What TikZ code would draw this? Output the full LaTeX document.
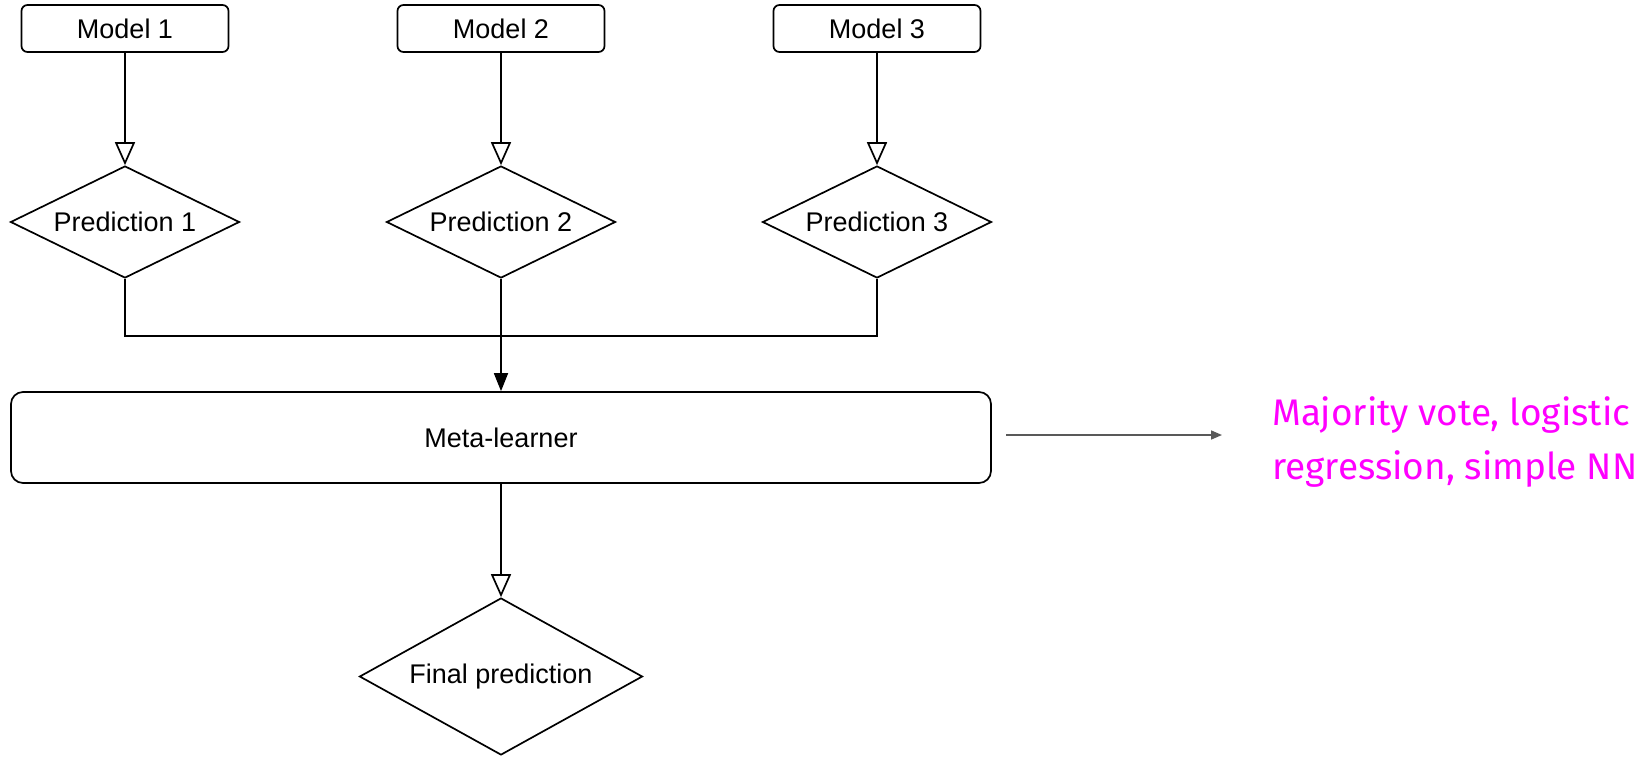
\documentclass[tikz,border=0pt]{standalone}
\usepackage{fontspec}
\setmainfont{Liberation Sans}
\newfontfamily\magfont{Fira Sans}
\usetikzlibrary{shapes.geometric,arrows.meta}
\definecolor{mag}{HTML}{FF00FF}
\definecolor{arrgray}{HTML}{595959}
\begin{document}
\begin{tikzpicture}[x=1pt,y=-1pt,
  lbl/.style={font=\fontsize{27}{31}\selectfont},
  modelbox/.style={lbl, draw, line width=1.7pt, rounded corners=6pt, minimum width=207pt, minimum height=47pt, inner sep=0pt},
  pred/.style={lbl, draw, diamond, aspect=2, inner sep=0pt, line width=1.7pt, minimum width=229pt, minimum height=112pt},
  finalpred/.style={pred, minimum width=283pt, minimum height=157pt},
  metabox/.style={lbl, draw, line width=1.7pt, rounded corners=12pt, minimum width=980pt, minimum height=91pt, inner sep=0pt},
  conn/.style={line width=1.7pt},
  openarrow/.style={conn, -{Triangle[open, length=23pt, width=20pt, line width=1.7pt]}},
  filledarrow/.style={conn, -{Triangle[length=18pt, width=14pt]}},
  sidearrow/.style={arrgray, line width=1.6pt, -{Triangle[length=11pt, width=9pt]}},
  magtext/.style={text=mag, font=\magfont\fontsize{37}{52}\selectfont, inner sep=0pt, anchor=base west}
]
\useasboundingbox (0,0) rectangle (1651,756);

\node[modelbox] (m1) at (125,28.5) {Model 1};
\node[modelbox] (m2) at (501,28.5) {Model 2};
\node[modelbox] (m3) at (877,28.5) {Model 3};

\node[pred] (p1) at (125,222) {Prediction 1};
\node[pred] (p2) at (501,222) {Prediction 2};
\node[pred] (p3) at (877,222) {Prediction 3};

\node[metabox] (meta) at (501,437.5) {Meta-learner};
\node[finalpred] (fin) at (501,676.5) {Final prediction};

\coordinate (bus) at (501,336);

\draw[openarrow] (m1.south) -- (p1.north);
\draw[openarrow] (m2.south) -- (p2.north);
\draw[openarrow] (m3.south) -- (p3.north);

\draw[conn] (p1.south) |- (bus) -| (p3.south);
\draw[filledarrow] (p2.south) -- (meta.north);
\draw[openarrow] (meta.south) -- (fin.north);

\coordinate (sa) at (1006,435);
\coordinate (sb) at (1222,435);
\draw[sidearrow] (sa) -- (sb);

\node[magtext] (t1) at (1272,425) {Majority vote, logistic};
\node[magtext] (t2) at (1272,479) {regression, simple NN};
\end{tikzpicture}
\end{document}
